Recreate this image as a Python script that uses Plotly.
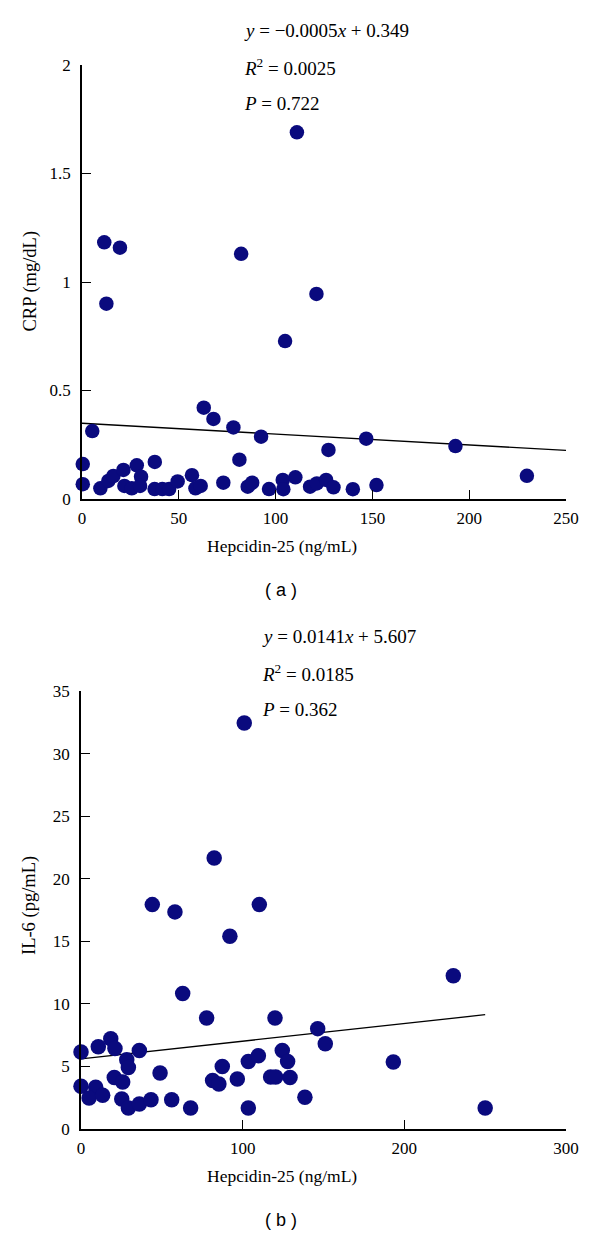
import plotly.graph_objects as go

# ---------------- Panel (a): Hepcidin-25 vs CRP ----------------
hep_a = [11.5, 19.6, 82.2, 111.0, 121.1, 12.6, 104.9, 0.4, 0.4, 5.3, 9.5, 13.6, 16.2,
         21.4, 21.9, 25.7, 28.3, 30.5, 30.0, 37.6, 37.5, 41.5, 45.0, 49.4, 56.8, 58.6,
         61.3, 62.9, 67.9, 73.0, 78.2, 81.3, 85.6, 87.9, 92.5, 96.6, 103.7, 104.0,
         110.2, 117.8, 121.3, 126.1, 127.3, 129.9, 139.9, 146.8, 152.1, 192.9, 229.8]
crp_a = [1.183, 1.158, 1.130, 1.690, 0.945, 0.900, 0.728, 0.161, 0.068, 0.313, 0.049,
         0.083, 0.106, 0.134, 0.060, 0.049, 0.155, 0.103, 0.060, 0.171, 0.046, 0.046,
         0.046, 0.081, 0.110, 0.049, 0.060, 0.421, 0.369, 0.075, 0.330, 0.181, 0.057,
         0.075, 0.287, 0.046, 0.088, 0.045, 0.100, 0.057, 0.072, 0.088, 0.226, 0.054,
         0.045, 0.278, 0.064, 0.244, 0.107]
fit_a_slope, fit_a_icpt = -0.0005, 0.349
fit_x_a = [0, 250]

# ---------------- Panel (b): Hepcidin-25 vs IL-6 ----------------
hep_b = [101.0, 82.4, 44.1, 58.1, 110.3, 92.1, 62.9, 77.7, 120.0, 146.4, 151.1, 0.0,
         10.7, 18.4, 21.0, 36.1, 28.3, 29.3, 20.6, 25.8, 48.9, 0.0, 9.1, 5.0, 13.4,
         25.2, 29.3, 36.1, 43.3, 56.1, 67.8, 81.4, 85.3, 87.4, 96.7, 103.5, 109.7,
         103.5, 117.3, 120.4, 124.5, 127.8, 129.3, 138.5, 230.3, 193.2, 250.0]
il6_b = [32.45, 21.66, 17.93, 17.35, 17.93, 15.40, 10.82, 8.87, 8.87, 8.02, 6.82, 6.15,
         6.58, 7.22, 6.44, 6.28, 5.54, 4.92, 4.12, 3.76, 4.48, 3.41, 3.33, 2.48, 2.69,
         2.40, 1.68, 2.00, 2.34, 2.34, 1.68, 3.88, 3.60, 5.00, 4.00, 5.40, 5.86, 1.68,
         4.16, 4.16, 6.28, 5.40, 4.12, 2.53, 12.25, 5.35, 1.68]
fit_b_slope, fit_b_icpt = 0.0141, 5.607
fit_x_b = [0, 250]

ticks_xa = [0, 50, 100, 150, 200, 250]
ticks_ya = [0, 0.5, 1, 1.5, 2]
tick_text_ya = ["0", "0.5", "1", "1.5", "2"]
ticks_xb = [0, 100, 200, 300]
ticks_yb = [0, 5, 10, 15, 20, 25, 30, 35]

eq_a = ["<i>y</i> = −0.0005<i>x</i> + 0.349", "<i>R</i><sup>2</sup> = 0.0025", "<i>P</i> = 0.722"]
eq_b = ["<i>y</i> = 0.0141<i>x</i> + 5.607", "<i>R</i><sup>2</sup> = 0.0185", "<i>P</i> = 0.362"]

NAVY = "#0a0a7e"
SERIF = "Liberation Serif, Times New Roman, serif"
SANS = "Liberation Sans, Arial, sans-serif"
W, H = 600, 1237

fig = go.Figure()

fig.add_trace(go.Scatter(
    x=fit_x_a, y=[fit_a_slope * v + fit_a_icpt for v in fit_x_a],
    mode="lines", line=dict(color="black", width=1.3),
    xaxis="x", yaxis="y", showlegend=False, hoverinfo="skip"))
fig.add_trace(go.Scatter(
    x=hep_a, y=crp_a, mode="markers",
    marker=dict(color=NAVY, size=14.5, line=dict(width=0)),
    cliponaxis=False, xaxis="x", yaxis="y", showlegend=False))

fig.add_trace(go.Scatter(
    x=fit_x_b, y=[fit_b_slope * v + fit_b_icpt for v in fit_x_b],
    mode="lines", line=dict(color="black", width=1.3),
    xaxis="x2", yaxis="y2", showlegend=False, hoverinfo="skip"))
fig.add_trace(go.Scatter(
    x=hep_b, y=il6_b, mode="markers",
    marker=dict(color=NAVY, size=15.5, line=dict(width=0)),
    cliponaxis=False, xaxis="x2", yaxis="y2", showlegend=False))

def py(pix):
    return 1 - pix / H

axis_common = dict(showline=True, linecolor="black", linewidth=1.5, showgrid=False,
                   zeroline=False, ticks="inside", ticklen=9, tickwidth=1.3,
                   tickcolor="black", tickfont=dict(family=SERIF, size=17, color="black"),
                   mirror=False, fixedrange=True, automargin=False)

fig.update_layout(
    template="none",
    width=W, height=H, autosize=False,
    font=dict(family=SERIF, color="black"),
    paper_bgcolor="white", plot_bgcolor="white",
    margin=dict(l=0, r=0, t=0, b=0, pad=0),
    xaxis=dict(domain=[82 / W, 566 / W], range=[0, 250], tickvals=ticks_xa,
               anchor="y", ticklabelstandoff=3, **axis_common),
    yaxis=dict(domain=[py(499), py(65)], range=[0, 2], tickvals=ticks_ya,
               ticktext=tick_text_ya, anchor="x", ticklabelstandoff=6, **axis_common),
    xaxis2=dict(domain=[81 / W, 566 / W], range=[0, 300], tickvals=ticks_xb,
                anchor="y2", ticklabelstandoff=3, **axis_common),
    yaxis2=dict(domain=[py(1129), py(691)], range=[0, 35], tickvals=ticks_yb,
                anchor="x2", ticklabelstandoff=6, **axis_common),
)

ann = []
for t, yp in zip(eq_a, [30.7, 67, 103.7]):
    ann.append(dict(text=t, x=242 / W, y=py(yp), xref="paper", yref="paper",
                    xanchor="left", yanchor="middle", showarrow=False,
                    font=dict(family=SERIF, size=19, color="black")))
for t, yp in zip(eq_b, [636.7, 673.3, 709.3]):
    ann.append(dict(text=t, x=260 / W, y=py(yp), xref="paper", yref="paper",
                    xanchor="left", yanchor="middle", showarrow=False,
                    font=dict(family=SERIF, size=19, color="black")))

xtitle_font = dict(family=SERIF, size=17.5, color="black")
ytitle_font = dict(family=SERIF, size=18.5, color="black")
ann += [
    dict(text="Hepcidin-25 (ng/mL)", x=281.5 / W, y=py(545.7), xref="paper", yref="paper",
         xanchor="center", yanchor="middle", showarrow=False, font=xtitle_font),
    dict(text="Hepcidin-25 (ng/mL)", x=281.5 / W, y=py(1175.7), xref="paper", yref="paper",
         xanchor="center", yanchor="middle", showarrow=False, font=xtitle_font),
    dict(text="CRP (mg/dL)", x=30 / W, y=py(281.5), xref="paper", yref="paper",
         xanchor="center", yanchor="middle", showarrow=False, textangle=-90, font=ytitle_font),
    dict(text="IL-6 (pg/mL)", x=30 / W, y=py(906), xref="paper", yref="paper",
         xanchor="center", yanchor="middle", showarrow=False, textangle=-90, font=ytitle_font),
    dict(text="( a )", x=281 / W, y=py(590), xref="paper", yref="paper",
         xanchor="center", yanchor="middle", showarrow=False,
         font=dict(family=SANS, size=18, color="black")),
    dict(text="( b )", x=281 / W, y=py(1220), xref="paper", yref="paper",
         xanchor="center", yanchor="middle", showarrow=False,
         font=dict(family=SANS, size=18, color="black")),
]
fig.update_layout(annotations=ann)

fig.write_html(
    "out.html",
    config={"displayModeBar": False},
    post_script="document.body.style.margin='0';document.body.style.padding='0';"
                "document.documentElement.style.overflow='hidden';",
)
